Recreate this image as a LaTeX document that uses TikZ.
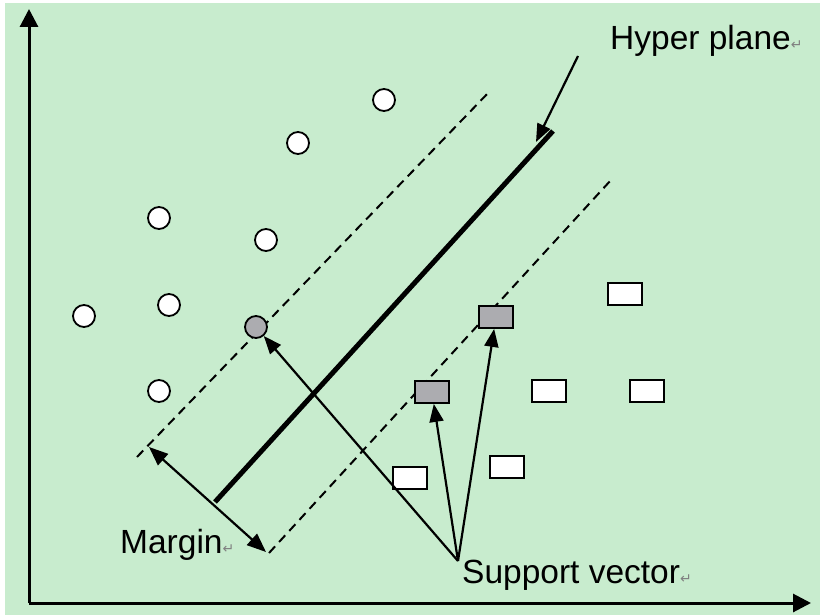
\documentclass[tikz,border=0pt]{standalone}
\usepackage{fontspec}
\setmainfont{Liberation Sans}
\newfontfamily\retfont{DejaVu Sans}
\usetikzlibrary{arrows.meta}
\definecolor{bggreen}{RGB}{200,236,206}
\definecolor{svgray}{RGB}{172,172,176}
\newcommand{\retmark}{{\retfont\fontsize{14}{14}\selectfont\color{gray}↵}}

\begin{document}
\begin{tikzpicture}[x=1pt,y=-1pt,
    pt/.style={shape=circle,draw=black,fill=white,line width=1.8pt,minimum size=22pt,inner sep=0pt},
    box/.style={shape=rectangle,draw=black,fill=white,line width=1.8pt,minimum width=34pt,minimum height=22pt,inner sep=0pt},
    lbl/.style={anchor=base west,inner sep=0pt,font=\fontsize{33.5}{36}\selectfont},
    tip/.style={line width=2.2pt,-{Triangle[length=18pt,width=14pt]}},
    margin/.style={line width=2pt,dashed,dash pattern=on 9pt off 6pt}]
    \useasboundingbox (0,0) rectangle (820,615);
    \fill[white] (0,0) rectangle (820,615);
    \fill[bggreen] (5,3) rectangle (820,615);

    % axes
    \coordinate (O) at (29,603);
    \coordinate (ytop) at (29,9);
    \coordinate (xend) at (811,603);
    \draw[line width=3pt,-{Triangle[length=18pt,width=18pt]}] (O) -- (ytop);
    \draw[line width=3pt,-{Triangle[length=18pt,width=18pt]}] (O) -- (xend);

    % margins and hyper plane
    \coordinate (up1) at (137,457);
    \coordinate (up2) at (490,91);
    \coordinate (lo1) at (269,553);
    \coordinate (lo2) at (611,180);
    \coordinate (h1) at (215,502);
    \coordinate (h2) at (553,131);
    \draw[margin] (up1) -- (up2);
    \draw[margin] (lo1) -- (lo2);
    \draw[line width=5pt] (h1) -- (h2);

    % circles
    \node[pt] (c1) at (384,100) {};
    \node[pt] (c2) at (298,143) {};
    \node[pt] (c3) at (159,218) {};
    \node[pt] (c4) at (266,240) {};
    \node[pt] (c5) at (84,316) {};
    \node[pt] (c6) at (169,305) {};
    \node[pt] (c7) at (159,391) {};
    \node[pt,fill=svgray] (sc) at (256,327) {};

    % boxes
    \node[box] (b1) at (625,294) {};
    \node[box] (b2) at (549,391) {};
    \node[box] (b3) at (647,391) {};
    \node[box] (b4) at (410,478) {};
    \node[box] (b5) at (507,467) {};
    \node[box,fill=svgray] (sb1) at (432,392) {};
    \node[box,fill=svgray] (sb2) at (496,317) {};

    % labels
    \node[lbl] (hp) at (610,50) {Hyper plane\retmark};
    \node[lbl] (mg) at (120,553) {Margin\retmark};
    \node[lbl] (sv) at (462,583) {Support vector\retmark};

    \coordinate (hpfoot) at (578,56);
    \coordinate (hptip) at (536,142);
    \coordinate (svfoot) at (458,561);
    \coordinate (m1) at (149,447);
    \coordinate (m2) at (266,552);

    \draw[tip] (hpfoot) -- (hptip);
    \draw[line width=2.2pt,{Triangle[length=19pt,width=15pt]}-{Triangle[length=19pt,width=15pt]}] (m1) -- (m2);
    \path[tip] (svfoot) edge (sc);
    \path[tip] (svfoot) edge (sb1);
    \path[tip] (svfoot) edge (sb2);

\end{tikzpicture}
\end{document}
